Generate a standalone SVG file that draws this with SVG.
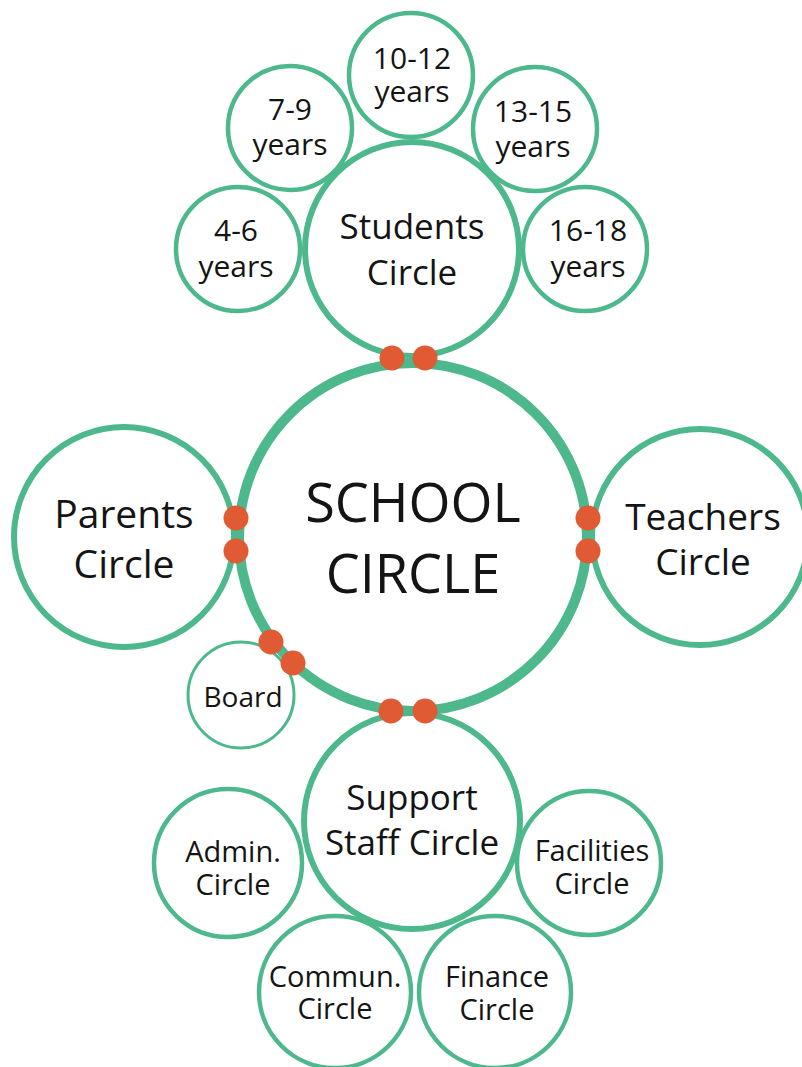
<svg xmlns="http://www.w3.org/2000/svg" width="802" height="1067" viewBox="0 0 802 1067">
<style>
.c{fill:none;stroke:#4db88b}
.big{stroke-width:10}
.mid{stroke-width:6}
.sm{stroke-width:4.5}
.xs{stroke-width:3}
text{font-family:"Open Sans","Noto Sans","Liberation Sans",sans-serif;fill:#141414;text-anchor:middle}
.dot{fill:#e05a34}
</style>
<rect width="802" height="1067" fill="#fff"/>
<g id="age-4-6"><circle class="c sm" cx="238" cy="249" r="62"/><text x="236" y="241" font-size="30">4-6</text><text x="236" y="277" font-size="30">years</text></g>
<g id="age-7-9"><circle class="c sm" cx="290" cy="128" r="62"/><text x="290" y="120" font-size="30">7-9</text><text x="290" y="155" font-size="30">years</text></g>
<g id="age-10-12"><circle class="c sm" cx="411" cy="75" r="62"/><text x="412" y="69" font-size="30">10-12</text><text x="412" y="102" font-size="30">years</text></g>
<g id="age-13-15"><circle class="c sm" cx="535" cy="129" r="62"/><text x="533" y="122" font-size="30">13-15</text><text x="533" y="157" font-size="30">years</text></g>
<g id="age-16-18"><circle class="c sm" cx="585" cy="249" r="62"/><text x="588" y="241" font-size="30">16-18</text><text x="588" y="277" font-size="30">years</text></g>
<g id="students"><circle class="c mid" cx="412" cy="249" r="107"/><text x="412" y="239" font-size="35">Students</text><text x="412" y="285" font-size="35">Circle</text></g>
<g id="parents"><circle class="c mid" cx="124" cy="537" r="110"/><text x="124" y="528" font-size="39">Parents</text><text x="124" y="578" font-size="39">Circle</text></g>
<g id="teachers"><circle class="c mid" cx="700" cy="537" r="108"/><text x="703" y="530" font-size="37">Teachers</text><text x="703" y="575" font-size="37">Circle</text></g>
<g id="board"><circle class="c xs" cx="241" cy="695" r="53"/><text x="243" y="707" font-size="28">Board</text></g>
<g id="support"><circle class="c mid" cx="412" cy="821" r="108"/><text x="412" y="810" font-size="35">Support</text><text x="412" y="855" font-size="35">Staff Circle</text></g>
<g id="admin"><circle class="c sm" cx="228" cy="863" r="74"/><text x="233" y="862" font-size="29">Admin.</text><text x="233" y="895" font-size="29">Circle</text></g>
<g id="facilities"><circle class="c sm" cx="589" cy="863" r="72"/><text x="592" y="861" font-size="29">Facilities</text><text x="592" y="894" font-size="29">Circle</text></g>
<g id="commun"><circle class="c sm" cx="335" cy="992" r="76"/><text x="335" y="987" font-size="29">Commun.</text><text x="335" y="1019" font-size="29">Circle</text></g>
<g id="finance"><circle class="c sm" cx="495" cy="992" r="76"/><text x="497" y="987" font-size="29">Finance</text><text x="497" y="1020" font-size="29">Circle</text></g>
<g id="school"><circle class="c big" cx="413" cy="537" r="174"/><text x="413" y="522" font-size="54">SCHOOL</text><text x="413" y="593" font-size="54">CIRCLE</text></g>
<g id="connectors">
<circle class="dot" cx="392" cy="358" r="12.5"/><circle class="dot" cx="425" cy="358" r="12.5"/>
<circle class="dot" cx="236" cy="518" r="12.5"/><circle class="dot" cx="236" cy="551" r="12.5"/>
<circle class="dot" cx="588" cy="518" r="12.5"/><circle class="dot" cx="588" cy="551" r="12.5"/>
<circle class="dot" cx="271" cy="642" r="12.5"/><circle class="dot" cx="293" cy="663" r="12.5"/>
<circle class="dot" cx="391" cy="711" r="12.5"/><circle class="dot" cx="425" cy="711" r="12.5"/>
</g>
</svg>
